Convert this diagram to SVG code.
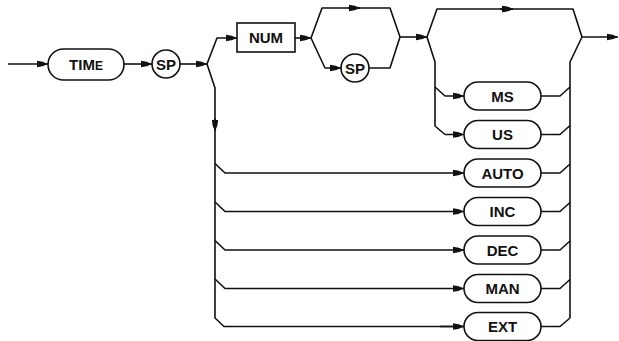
<svg xmlns="http://www.w3.org/2000/svg" width="619" height="341" viewBox="0 0 619 341">
<defs>
<marker id="ah" markerUnits="userSpaceOnUse" markerWidth="13" markerHeight="9" refX="11" refY="4" orient="auto" overflow="visible">
<path d="M0,0.8 Q6,1 11,4 Q6,7 0,7.2 z" fill="#111"/>
</marker>
</defs>
<style>
.c{fill:none;stroke:#111;stroke-width:1.6;stroke-linejoin:round}
.a{marker-end:url(#ah)}
.n{fill:#fff;stroke:#111;stroke-width:1.6}
.t{font-family:"Liberation Sans",Arial,sans-serif;font-weight:bold;font-size:15px;fill:#111;text-anchor:middle}
</style>
<rect width="619" height="341" fill="#fff"/>
<g id="connectors">
<path class="c a" d="M8,64 H48"/>
<path class="c a" d="M124,64 H152"/>
<path class="c a" d="M180,64 H207"/>
<path class="c a" d="M207,64 L217,38 H237"/>
<path class="c" d="M207,64 L215,88 V318 L224,326.5 H464"/>
<path class="c a" d="M215,118 V131"/>
<path class="c a" d="M215,163.5 L225,173 H464"/>
<path class="c a" d="M215,202 L225,211.5 H464"/>
<path class="c a" d="M215,240.5 L225,250 H464"/>
<path class="c a" d="M215,279 L225,288.5 H464"/>
<path class="c a" d="M440,326.5 H464"/>
<path class="c a" d="M295,38 H311"/>
<path class="c" d="M311,38 L322,8 H390 L400,37"/>
<path class="c a" d="M348,8 H360"/>
<path class="c a" d="M311,38 L325,68 H341"/>
<path class="c" d="M369,68 H390 L400,37"/>
<path class="c a" d="M400,37 H427"/>
<path class="c" d="M427,37 L437,9 H573 L582,37"/>
<path class="c a" d="M500,9 H513"/>
<path class="c a" d="M427,37 L435,62 V126 L445,134.5 H464"/>
<path class="c a" d="M435,87 L445,96 H464"/>
<path class="c a" d="M582,37 H618"/>
<path class="c" d="M582,37 L570,62 V318"/>
<path class="c" d="M541,96 H560 L570,87"/>
<path class="c" d="M541,134.5 H560 L570,125.5"/>
<path class="c" d="M541,173 H560 L570,164"/>
<path class="c" d="M541,211.5 H560 L570,202.5"/>
<path class="c" d="M541,250 H560 L570,241"/>
<path class="c" d="M541,288.5 H560 L570,279.5"/>
<path class="c" d="M541,326.5 H560 L570,318"/>
</g>
<g id="n-time"><rect class="n" x="48" y="49" width="76" height="31" rx="15.5"/><text class="t" x="86" y="70">TIM<tspan font-size="12px">E</tspan></text></g>
<g id="n-sp1"><circle class="n" cx="166" cy="64" r="14"/><text class="t" x="166" y="69.5">SP</text></g>
<g id="n-num"><rect class="n" x="237" y="23" width="58" height="29"/><text class="t" x="266" y="43">NUM</text></g>
<g id="n-sp2"><circle class="n" cx="355" cy="68" r="14"/><text class="t" x="355" y="73.5">SP</text></g>
<g id="n-ms"><rect class="n" x="464" y="82" width="77" height="28" rx="14"/><text class="t" x="502.5" y="101.5">MS</text></g>
<g id="n-us"><rect class="n" x="464" y="120.5" width="77" height="28" rx="14"/><text class="t" x="502.5" y="140">US</text></g>
<g id="n-auto"><rect class="n" x="464" y="159" width="77" height="28" rx="14"/><text class="t" x="502.5" y="178.5">AUTO</text></g>
<g id="n-inc"><rect class="n" x="464" y="197.5" width="77" height="28" rx="14"/><text class="t" x="502.5" y="217">INC</text></g>
<g id="n-dec"><rect class="n" x="464" y="236" width="77" height="28" rx="14"/><text class="t" x="502.5" y="255.5">DEC</text></g>
<g id="n-man"><rect class="n" x="464" y="274.5" width="77" height="28" rx="14"/><text class="t" x="502.5" y="294">MAN</text></g>
<g id="n-ext"><rect class="n" x="464" y="312.5" width="77" height="28" rx="14"/><text class="t" x="502.5" y="332">EXT</text></g>
</svg>
